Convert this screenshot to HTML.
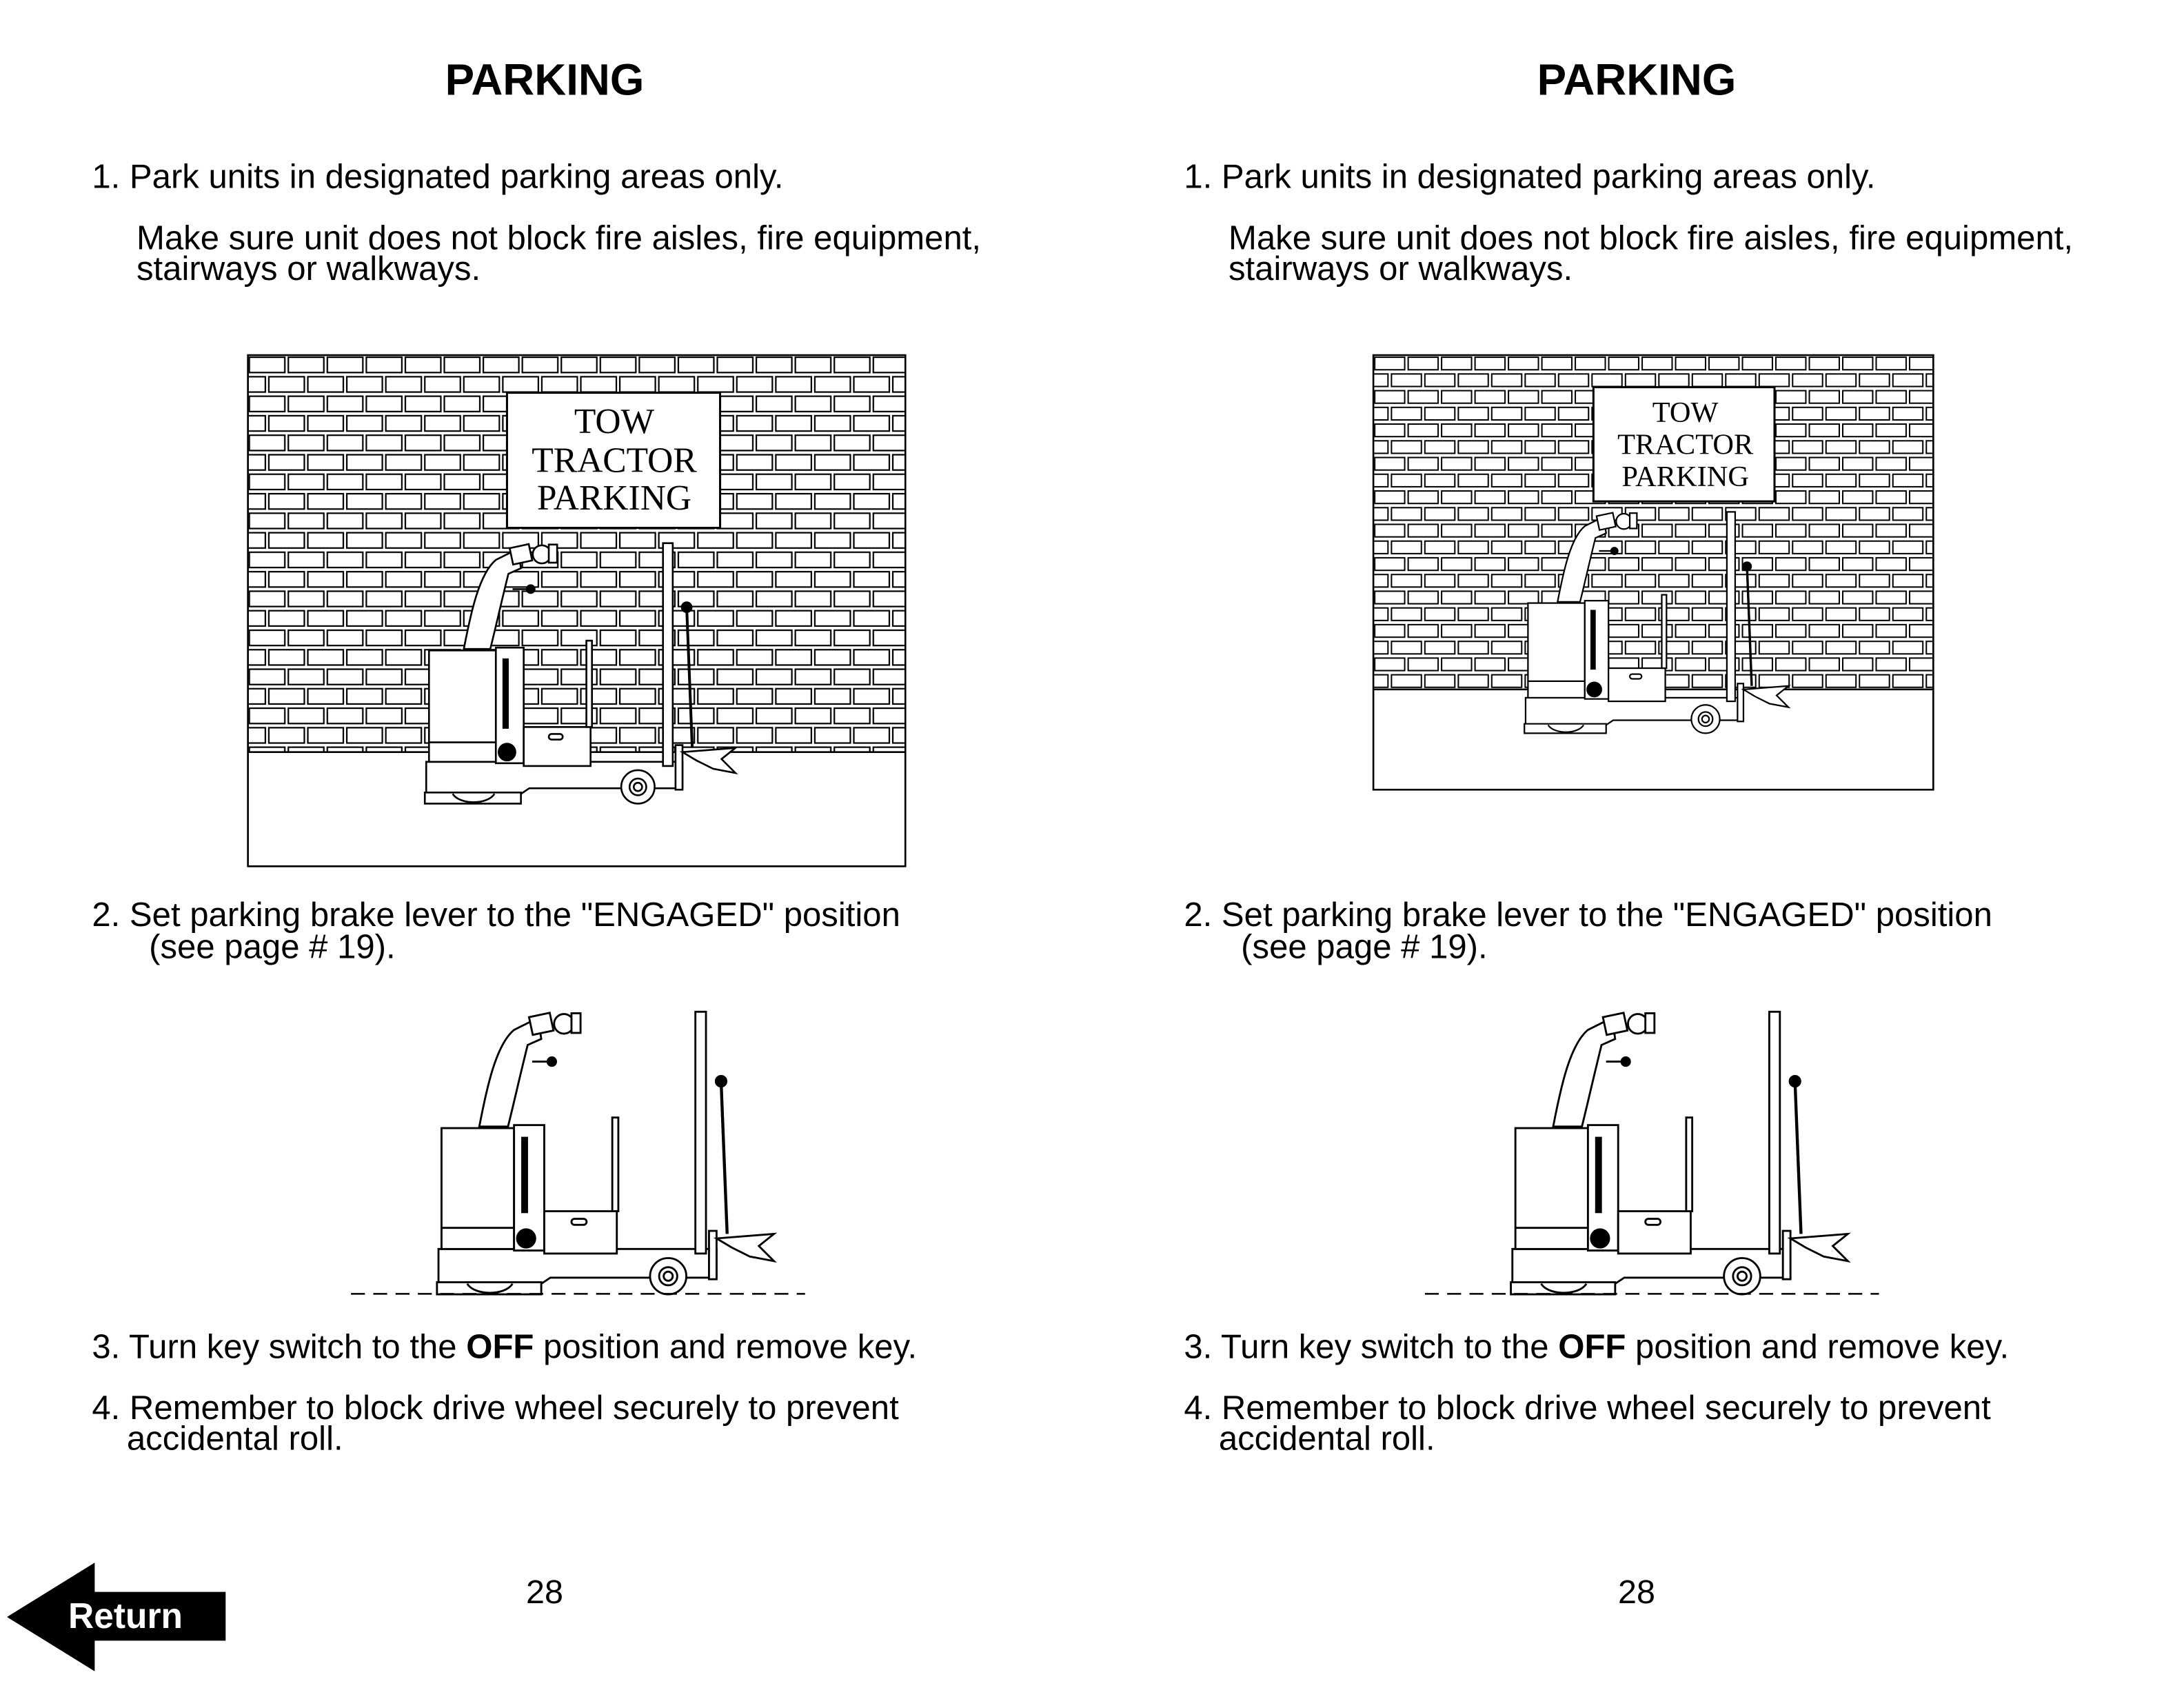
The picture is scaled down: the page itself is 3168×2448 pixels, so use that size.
<!DOCTYPE html>
<html><head><meta charset="utf-8"><style>
html,body{margin:0;padding:0;background:#fff;width:3168px;height:2448px;overflow:hidden}
svg{display:block}
text{font-family:"Liberation Sans",Arial,sans-serif;fill:#000}
.s{font-family:"Liberation Serif",serif}
</style></head><body>
<svg width="3168" height="2448" viewBox="0 0 1568 1212" preserveAspectRatio="none" xmlns="http://www.w3.org/2000/svg">
<defs>
<pattern id="br" x="178" y="255" width="28" height="28" patternUnits="userSpaceOnUse">
<rect width="28" height="28" fill="#fff"/>
<g fill="none" stroke="#000" stroke-width="1.1">
<rect x="1" y="1.5" width="25.5" height="11"/>
<rect x="-13" y="15.5" width="25.5" height="11"/>
<rect x="15" y="15.5" width="25.5" height="11"/>
</g>
</pattern>
<pattern id="br2" x="986" y="255" width="24" height="24" patternUnits="userSpaceOnUse">
<rect width="24" height="24" fill="#fff"/>
<g fill="none" stroke="#000" stroke-width="1">
<rect x="1" y="1.5" width="21.5" height="9"/>
<rect x="-11" y="13.5" width="21.5" height="9"/>
<rect x="13" y="13.5" width="21.5" height="9"/>
</g>
</pattern>
<g id="t" stroke="#000" stroke-width="1.3" fill="#fff">
<path d="M333,466 C338,440 344,412 356,402 L372,394 L374,408 L365,412 C360,432 356,450 352,466 Z"/>
<rect x="367" y="392" width="14" height="12" transform="rotate(-12 374 398)"/>
<circle cx="389" cy="398" r="6.5"/>
<rect x="394" y="391" width="6" height="13"/>
<line x1="368" y1="423" x2="380" y2="423"/>
<circle cx="381" cy="423" r="2.8" fill="#000"/>
<path d="M306,547 H490 V566 H380 L374,570 H306 Z"/>
<rect x="308" y="467" width="48" height="80"/>
<line x1="308" y1="533" x2="356" y2="533"/>
<rect x="356" y="465" width="20" height="83"/>
<rect x="361" y="473" width="4" height="50" fill="#000" stroke-width="0.5"/>
<circle cx="364" cy="540" r="6" fill="#000"/>
<rect x="376" y="522" width="48" height="28"/>
<rect x="394" y="527" width="10" height="4" rx="2"/>
<rect x="421" y="460" width="4" height="62"/>
<rect x="476" y="390" width="7" height="160"/>
<line x1="493" y1="436" x2="497" y2="537" stroke-width="2"/>
<circle cx="493" cy="436" r="3.5" fill="#000"/>
<path d="M305,569 H374 V577 H305 Z"/>
<path d="M325,570 C330,578 350,578 355,570" fill="none"/>
<circle cx="458" cy="565" r="12"/>
<circle cx="458" cy="565" r="6"/>
<circle cx="458" cy="565" r="3"/>
<rect x="485" y="535" width="5" height="32"/>
<path d="M490,540 L528,537 L518,545 L528,555 L512,552 L500,546 Z"/>
</g>
</defs>

<!-- LEFT PAGE -->
<text x="391" y="68" font-size="31.5" font-weight="bold" text-anchor="middle">PARKING</text>
<text x="66" y="135" font-size="24.3">1. Park units in designated parking areas only.</text>
<text x="98" y="179" font-size="24.3">Make sure unit does not block fire aisles, fire equipment,</text>
<text x="98" y="201" font-size="24.3">stairways or walkways.</text>

<rect x="178" y="255" width="472" height="367" fill="#fff" stroke="#000" stroke-width="1.3"/>
<rect x="178.7" y="255.7" width="470.6" height="284" fill="url(#br)"/>
<line x1="178" y1="540" x2="650" y2="540" stroke="#000" stroke-width="1.3"/>
<rect x="364" y="282" width="153" height="97" fill="#fff" stroke="#000" stroke-width="1.5"/>
<text class="s" x="441" y="311" font-size="25.5" text-anchor="middle">TOW</text>
<text class="s" x="441" y="339" font-size="25.5" text-anchor="middle">TRACTOR</text>
<text class="s" x="441" y="366" font-size="25.5" text-anchor="middle">PARKING</text>
<use href="#t"/>

<text x="66" y="665" font-size="24.3">2. Set parking brake lever to the "ENGAGED" position</text>
<text x="107" y="688" font-size="24.3">(see page # 19).</text>
<use href="#t" transform="translate(-17.2 303.3) scale(1.085)"/>
<line x1="252" y1="929" x2="578" y2="929" stroke="#000" stroke-width="1.2" stroke-dasharray="10 6"/>

<text x="66" y="975" font-size="24.3">3. Turn key switch to the <tspan font-weight="bold">OFF</tspan> position and remove key.</text>
<text x="66" y="1019" font-size="24.3">4. Remember to block drive wheel securely to prevent</text>
<text x="91" y="1041" font-size="24.3">accidental roll.</text>
<text x="391" y="1151" font-size="24" text-anchor="middle">28</text>

<path d="M5,1161 L68,1122 L68,1143 L162,1143 L162,1178 L68,1178 L68,1200 Z" fill="#000"/>
<text x="49" y="1169" font-size="25.5" font-weight="bold" style="fill:#fff">Return</text>

<!-- RIGHT PAGE -->
<text x="1175" y="68" font-size="31.5" font-weight="bold" text-anchor="middle">PARKING</text>
<text x="850" y="135" font-size="24.3">1. Park units in designated parking areas only.</text>
<text x="882" y="179" font-size="24.3">Make sure unit does not block fire aisles, fire equipment,</text>
<text x="882" y="201" font-size="24.3">stairways or walkways.</text>

<rect x="986" y="255" width="402" height="312" fill="#fff" stroke="#000" stroke-width="1.3"/>
<rect x="986.7" y="255.7" width="400.6" height="239.5" fill="url(#br2)"/>
<line x1="986" y1="495" x2="1388" y2="495" stroke="#000" stroke-width="1.3"/>
<rect x="1144" y="278" width="130" height="82" fill="#fff" stroke="#000" stroke-width="1.5"/>
<text class="s" x="1210" y="303" font-size="21" text-anchor="middle">TOW</text>
<text class="s" x="1210" y="326" font-size="21" text-anchor="middle">TRACTOR</text>
<text class="s" x="1210" y="349" font-size="21" text-anchor="middle">PARKING</text>
<use href="#t" transform="translate(835.2 36.05) scale(0.85)"/>

<text x="850" y="665" font-size="24.3">2. Set parking brake lever to the "ENGAGED" position</text>
<text x="891" y="688" font-size="24.3">(see page # 19).</text>
<use href="#t" transform="translate(753.8 303.3) scale(1.085)"/>
<line x1="1023" y1="929" x2="1349" y2="929" stroke="#000" stroke-width="1.2" stroke-dasharray="10 6"/>

<text x="850" y="975" font-size="24.3">3. Turn key switch to the <tspan font-weight="bold">OFF</tspan> position and remove key.</text>
<text x="850" y="1019" font-size="24.3">4. Remember to block drive wheel securely to prevent</text>
<text x="875" y="1041" font-size="24.3">accidental roll.</text>
<text x="1175" y="1151" font-size="24" text-anchor="middle">28</text>
</svg>
</body></html>
